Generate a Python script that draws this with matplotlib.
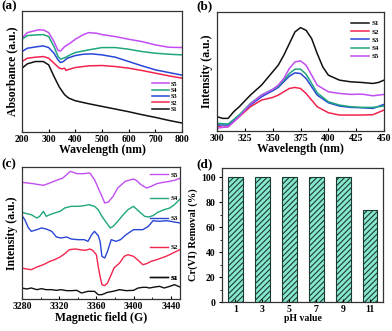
import matplotlib
matplotlib.use('Agg')
import matplotlib.pyplot as plt
from matplotlib.ticker import MultipleLocator, NullLocator
from matplotlib.lines import Line2D

plt.rcParams['font.family'] = ['Liberation Serif', 'DejaVu Serif']
plt.rcParams['font.weight'] = 'bold'
plt.rcParams['axes.labelweight'] = 'bold'
plt.rcParams['axes.linewidth'] = 0.9
plt.rcParams['hatch.linewidth'] = 0.8

colors = {'S1': '#111111', 'S2': '#f2244e', 'S3': '#2a46d6',
          'S4': '#1fa67f', 'S5': '#c24df2'}

# (a) UV-vis absorbance
uv_wl = [200, 220, 250, 280, 300, 320, 340, 360, 375, 400, 450, 500, 550, 600, 650, 700, 750, 800]
uv_s1 = [1.92, 2.05, 2.12, 2.12, 2.02, 1.67, 1.35, 1.12, 1.02, 0.94, 0.85, 0.77, 0.69, 0.61, 0.52, 0.44, 0.35, 0.27]
uv_wl2 = [200, 220, 250, 280, 300, 320, 340, 350, 360, 365, 370, 400, 450, 500, 550, 600, 650, 700, 750, 800]
uv_s2 = [2.12, 2.22, 2.25, 2.27, 2.22, 2.07, 1.92, 1.90, 1.92, 1.85, 1.87, 1.94, 1.99, 2.00, 1.97, 1.92, 1.85, 1.77, 1.69, 1.62]
uv_wl3 = [200, 220, 260, 280, 300, 320, 335, 345, 355, 370, 400, 430, 460, 500, 550, 600, 650, 700, 750, 800]
uv_s3 = [2.42, 2.52, 2.57, 2.59, 2.54, 2.37, 2.17, 2.09, 2.12, 2.22, 2.30, 2.34, 2.35, 2.32, 2.25, 2.12, 1.99, 1.87, 1.79, 1.71]
uv_wl4 = [200, 220, 250, 280, 300, 320, 335, 345, 355, 365, 380, 400, 450, 500, 550, 600, 650, 700, 750, 800]
uv_s4 = [2.79, 2.90, 2.92, 2.93, 2.87, 2.57, 2.27, 2.19, 2.22, 2.25, 2.32, 2.39, 2.47, 2.54, 2.54, 2.49, 2.42, 2.37, 2.34, 2.32]
uv_wl5 = [200, 220, 260, 280, 300, 320, 335, 345, 360, 380, 400, 430, 450, 480, 500, 550, 600, 650, 700, 750, 800]
uv_s5 = [2.82, 2.99, 3.07, 3.07, 2.99, 2.72, 2.45, 2.44, 2.57, 2.67, 2.79, 2.93, 2.99, 2.97, 2.93, 2.87, 2.79, 2.72, 2.62, 2.55, 2.54]

# (b) PL spectra
pl_wl = [300, 305, 310, 315, 320, 330, 340, 350, 355, 360, 365, 370, 375, 380, 385, 390, 395, 400, 410, 420, 430, 440, 445, 450]
pl_s1 = [0.43, 0.38, 0.38, 0.58, 0.73, 1.08, 1.38, 1.78, 1.98, 2.28, 2.63, 2.98, 3.11, 3.03, 2.78, 2.33, 1.93, 1.68, 1.53, 1.48, 1.46, 1.43, 1.46, 1.53]
pl_wl2 = [300, 305, 310, 320, 330, 340, 350, 355, 360, 365, 370, 375, 380, 385, 390, 400, 410, 420, 430, 440, 450]
pl_s2 = [0.15, 0.11, 0.13, 0.43, 0.73, 0.93, 1.01, 1.08, 1.18, 1.28, 1.31, 1.28, 1.13, 0.93, 0.73, 0.55, 0.48, 0.48, 0.48, 0.49, 0.63]
pl_s3 = [0.18, 0.18, 0.18, 0.48, 0.78, 1.03, 1.21, 1.31, 1.48, 1.65, 1.75, 1.73, 1.58, 1.33, 1.08, 0.85, 0.75, 0.71, 0.70, 0.68, 0.80]
pl_s4 = [0.23, 0.22, 0.21, 0.48, 0.83, 1.08, 1.25, 1.35, 1.53, 1.73, 1.86, 1.86, 1.71, 1.43, 1.15, 0.88, 0.78, 0.73, 0.71, 0.71, 0.75]
pl_s5 = [0.08, 0.11, 0.13, 0.43, 0.81, 1.08, 1.25, 1.38, 1.58, 1.88, 2.08, 2.11, 1.98, 1.68, 1.38, 1.18, 1.13, 1.10, 1.11, 1.06, 1.10]

# (c) EPR spectra
epr_s5_x = [3280, 3292, 3303, 3310, 3317, 3324, 3332, 3339, 3346, 3353, 3358, 3362, 3366, 3369, 3373, 3378, 3383, 3391, 3400, 3403, 3408, 3414, 3419, 3425, 3432, 3439, 3444, 3450]
epr_s5 = [3.50, 3.46, 3.41, 3.48, 3.56, 3.63, 3.83, 3.76, 3.76, 3.78, 3.58, 3.33, 3.08, 2.88, 2.91, 3.08, 3.33, 3.53, 3.60, 3.56, 3.43, 3.33, 3.38, 3.46, 3.50, 3.53, 3.56, 3.62]
epr_s4_x = [3280, 3285, 3290, 3296, 3299, 3303, 3306, 3310, 3315, 3321, 3326, 3333, 3340, 3347, 3352, 3358, 3362, 3366, 3371, 3375, 3378, 3383, 3389, 3394, 3400, 3403, 3407, 3412, 3416, 3421, 3426, 3433, 3439, 3444, 3450]
epr_s4 = [2.60, 2.56, 2.53, 2.43, 2.48, 2.63, 2.48, 2.53, 2.58, 2.63, 2.73, 2.78, 2.78, 2.80, 2.83, 2.78, 2.68, 2.48, 2.28, 2.13, 2.18, 2.33, 2.53, 2.68, 2.78, 2.70, 2.60, 2.48, 2.46, 2.50, 2.60, 2.68, 2.73, 2.83, 3.00]
epr_s3_x = [3280, 3283, 3287, 3290, 3296, 3301, 3306, 3312, 3317, 3322, 3328, 3333, 3340, 3347, 3351, 3355, 3358, 3362, 3364, 3366, 3369, 3372, 3376, 3381, 3386, 3392, 3400, 3405, 3410, 3416, 3421, 3428, 3435, 3440, 3450]
epr_s3 = [2.50, 2.38, 2.13, 2.03, 2.08, 2.13, 2.10, 2.03, 1.86, 1.83, 1.86, 1.80, 1.78, 1.78, 1.73, 1.93, 2.03, 1.90, 1.73, 1.28, 1.23, 1.43, 1.78, 1.73, 1.78, 1.93, 2.08, 2.08, 2.08, 2.18, 2.35, 2.33, 2.35, 2.33, 2.28]
epr_s2_x = [3280, 3285, 3290, 3296, 3303, 3310, 3315, 3321, 3326, 3331, 3337, 3342, 3348, 3353, 3356, 3360, 3362, 3364, 3366, 3369, 3372, 3376, 3379, 3385, 3390, 3394, 3400, 3405, 3410, 3414, 3419, 3425, 3430, 3435, 3441, 3446, 3450]
epr_s2 = [0.93, 0.90, 0.88, 0.96, 1.03, 1.13, 1.18, 1.26, 1.36, 1.48, 1.50, 1.48, 1.46, 1.50, 1.46, 1.33, 0.98, 0.68, 0.43, 0.40, 0.48, 0.73, 0.93, 1.08, 1.28, 1.33, 1.28, 1.16, 1.03, 1.06, 1.13, 1.18, 1.23, 1.28, 1.36, 1.43, 1.48]
epr_s1_x = [3280, 3285, 3290, 3296, 3301, 3306, 3312, 3317, 3322, 3328, 3333, 3339, 3344, 3351, 3358, 3362, 3366, 3372, 3378, 3385, 3392, 3400, 3405, 3410, 3414, 3417, 3423, 3428, 3433, 3439, 3444, 3450]
epr_s1 = [0.33, 0.30, 0.33, 0.28, 0.31, 0.28, 0.28, 0.26, 0.28, 0.25, 0.25, 0.26, 0.18, 0.23, 0.23, 0.13, 0.13, 0.20, 0.23, 0.28, 0.25, 0.26, 0.33, 0.35, 0.35, 0.33, 0.36, 0.38, 0.33, 0.38, 0.43, 0.36]

# (d) Cr(VI) removal vs pH
ph_labels = ['1', '3', '5', '7', '9', '11']
removal = [100, 100, 100, 100, 100, 74]

W, H = 392, 331
fig = plt.figure(figsize=(W / 100, H / 100), dpi=100)

def px_axes(l, t, r, b):
    return fig.add_axes([l / W, 1 - b / H, (r - l) / W, (b - t) / H])

ax_a = px_axes(22, 11, 182, 132)
ax_b = px_axes(217, 12, 384, 131)
ax_c = px_axes(22, 167, 180, 299)
ax_d = px_axes(222, 168, 383, 302)

lab_fs = 8.5
tick_fs = 7

for ax in (ax_a, ax_b, ax_c, ax_d):
    ax.tick_params(direction='in', labelsize=tick_fs, length=2.5, width=0.8, pad=2)
    ax.tick_params(which='minor', direction='in', length=1.5, width=0.6)
    for sp in ax.spines.values():
        sp.set_color('#333333')

# panel a
ax_a.plot(uv_wl, uv_s1, color=colors['S1'], lw=1.1, label='S1')
ax_a.plot(uv_wl2, uv_s2, color=colors['S2'], lw=1.1, label='S2')
ax_a.plot(uv_wl3, uv_s3, color=colors['S3'], lw=1.1, label='S3')
ax_a.plot(uv_wl4, uv_s4, color=colors['S4'], lw=1.1, label='S4')
ax_a.plot(uv_wl5, uv_s5, color=colors['S5'], lw=1.1, label='S5')
ax_a.set_xlim(200, 800)
ax_a.set_ylim(0, 3.64)
ax_a.xaxis.set_major_locator(MultipleLocator(100))
ax_a.yaxis.set_major_locator(NullLocator())
ax_a.set_xlabel('Wavelength (nm)', fontsize=lab_fs, labelpad=0)
ax_a.set_ylabel('Absorbance (a.u.)', fontsize=lab_fs, labelpad=3)
h, l = ax_a.get_legend_handles_labels()
ax_a.legend(h[::-1], l[::-1], loc='lower right', bbox_to_anchor=(1.0, 0.13),
            fontsize=4.5, frameon=False, handlelength=2.6, labelspacing=0.15,
            handletextpad=0.4, borderpad=0.2)

# panel b
ax_b.plot(pl_wl, pl_s1, color=colors['S1'], lw=1.1, label='S1')
ax_b.plot(pl_wl2, pl_s2, color=colors['S2'], lw=1.1, label='S2')
ax_b.plot(pl_wl2, pl_s3, color=colors['S3'], lw=1.1, label='S3')
ax_b.plot(pl_wl2, pl_s4, color=colors['S4'], lw=1.1, label='S4')
ax_b.plot(pl_wl2, pl_s5, color=colors['S5'], lw=1.1, label='S5')
ax_b.set_xlim(300, 450)
ax_b.set_ylim(0, 3.58)
ax_b.xaxis.set_major_locator(MultipleLocator(25))
ax_b.yaxis.set_major_locator(NullLocator())
ax_b.set_xlabel('Wavelength (nm)', fontsize=lab_fs, labelpad=0)
ax_b.set_ylabel('Intensity (a.u.)', fontsize=lab_fs, labelpad=3)
ax_b.legend(loc='upper right', bbox_to_anchor=(1.0, 0.97), fontsize=5,
            frameon=False, handlelength=2.6, labelspacing=0.35,
            handletextpad=0.4, borderpad=0.2)

# panel c - one small legend per trace, placed next to it
epr = [('S5', epr_s5_x, epr_s5, 0.94), ('S4', epr_s4_x, epr_s4, 0.765),
       ('S3', epr_s3_x, epr_s3, 0.61), ('S2', epr_s2_x, epr_s2, 0.39),
       ('S1', epr_s1_x, epr_s1, 0.16)]
for name, xs, ys, ypos in epr:
    ax_c.plot(xs, ys, color=colors[name], lw=1.0)
    leg = ax_c.legend([Line2D([], [], color=colors[name], lw=1.0)], [name],
                      loc='center right', bbox_to_anchor=(1.0, ypos),
                      fontsize=5, frameon=False, handlelength=2.6,
                      handletextpad=0.4, borderpad=0.1, borderaxespad=0.2)
    ax_c.add_artist(leg)
ax_c.set_xlim(3280, 3450)
ax_c.set_ylim(0, 3.96)
ax_c.xaxis.set_major_locator(MultipleLocator(40))
ax_c.xaxis.set_minor_locator(MultipleLocator(20))
ax_c.yaxis.set_major_locator(NullLocator())
ax_c.set_xlabel('Magnetic field (G)', fontsize=lab_fs, labelpad=1)
ax_c.set_ylabel('Intensity (a.u.)', fontsize=lab_fs, labelpad=3)

# panel d
xpos = range(len(ph_labels))
ax_d.bar(xpos, removal, width=0.53, color='#86e8cf', edgecolor='#1d3a30',
         hatch='//////', linewidth=0.8)
ax_d.set_xticks(list(xpos))
ax_d.set_xticklabels(ph_labels)
ax_d.set_xlim(-0.5, 5.47)
ax_d.set_ylim(0, 107.5)
ax_d.yaxis.set_major_locator(MultipleLocator(20))
ax_d.yaxis.set_minor_locator(MultipleLocator(10))
ax_d.tick_params(axis='y', direction='out')
ax_d.tick_params(axis='y', which='minor', direction='out')
ax_d.set_xlabel('pH value', fontsize=7, labelpad=0)
ax_d.set_ylabel('Cr(VI) Removal (%)', fontsize=7.5, labelpad=2)

# panel letters
for txt, x, y in [('(a)', 1, 0), ('(b)', 196, 0), ('(c)', 1, 158), ('(d)', 196, 158)]:
    fig.text(x / W, 1 - y / H, txt, fontsize=9.5, fontweight='bold', va='top', ha='left')

fig.savefig('out.png', dpi=100)
